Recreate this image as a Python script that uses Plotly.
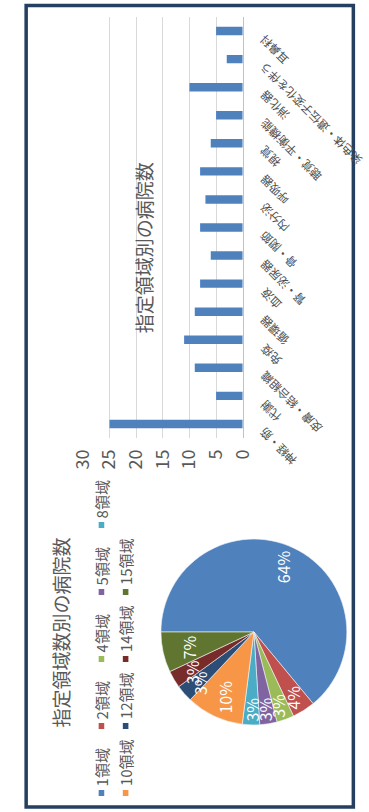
import math
import plotly.graph_objects as go

W, H = 369, 812

# ---- bar chart data: hospitals per designated field ----
categories = [
    "神経・筋", "代謝", "皮膚・結合組織", "免疫", "循環器", "血液",
    "腎・泌尿器", "骨・関節", "内分泌", "呼吸器", "視覚",
    "聴覚・平衡機能", "消化器", "染色体・遺伝子変化を伴う", "耳鼻科",
]
hospital_counts = [25, 5, 9, 11, 9, 8, 6, 8, 7, 8, 6, 5, 10, 3, 5]
value_ticks = [0, 5, 10, 15, 20, 25, 30]

# ---- pie chart data: share of hospitals by number of fields ----
field_groups = ["1領域", "2領域", "4領域", "5領域", "8領域",
                "10領域", "12領域", "14領域", "15領域"]
group_share = [64, 4, 3, 3, 3, 10, 3, 3, 7]
group_colors = ["#4F81BD", "#C0504D", "#9BBB59", "#8064A2", "#4BACC6",
                "#F79646", "#2C4D75", "#772C2A", "#5F7530"]

bar_title = "指定領域別の病院数"
pie_title = "指定領域数別の病院数"

FONT = "Noto Sans CJK JP, Noto Sans, Arial"
GREY = "#595959"


def px(x):
    return x / W


def py(y):
    return 1 - y / H


fig = go.Figure()

# horizontal bars (the whole sheet is turned a quarter turn)
fig.add_trace(go.Bar(
    x=hospital_counts, y=categories, orientation="h",
    marker=dict(color="#4F81BD", line=dict(width=0)),
    showlegend=False, hoverinfo="x+y",
))

# pie, starting at 9 o'clock and running clockwise
pie_left, pie_top, pie_size = 157, 532, 200
pie_rotation = -90
fig.add_trace(go.Pie(
    labels=field_groups, values=group_share, sort=False,
    direction="clockwise", rotation=pie_rotation,
    marker=dict(colors=group_colors, line=dict(color="#F2F5FA", width=0.6)),
    textinfo="none", showlegend=False,
    domain=dict(x=[px(pie_left), px(pie_left + pie_size)],
                y=[py(pie_top + pie_size), py(pie_top)]),
))

annotations = []

# percentage labels inside the pie, turned with the sheet
cx, cy, R = pie_left + pie_size / 2, pie_top + pie_size / 2, pie_size / 2
total = sum(group_share)
cum = 0
for name, v in zip(field_groups, group_share):
    mid = cum + v / 2
    cum += v
    th = math.radians(pie_rotation + mid / total * 360)
    r = 0.72 * R if v >= 5 else 0.78 * R
    lx, ly = cx + r * math.sin(th), cy - r * math.cos(th)
    annotations.append(dict(
        x=px(lx), y=py(ly), xref="paper", yref="paper",
        text=f"{round(v / total * 100)}%", showarrow=False, textangle=-90,
        font=dict(family=FONT, size=16, color="white"),
        xanchor="center", yanchor="middle", borderpad=0,
    ))

# legend drawn as rotated items: two columns of markers + labels
legend_cols = [93, 119]
legend_y0, legend_step, per_col = 793, 67, 5
shapes = []
for i, (name, col) in enumerate(zip(field_groups, group_colors)):
    cxl = legend_cols[i // per_col]
    my = legend_y0 - legend_step * (i % per_col)
    shapes.append(dict(type="rect", xref="paper", yref="paper",
                       x0=px(cxl - 3), x1=px(cxl + 3),
                       y0=py(my + 3), y1=py(my - 3),
                       fillcolor=col, line=dict(width=0)))
    annotations.append(dict(
        x=px(cxl), y=py(my - 6), xref="paper", yref="paper",
        text=name, showarrow=False, textangle=-90,
        font=dict(family=FONT, size=15, color=GREY),
        xanchor="center", yanchor="bottom", borderpad=0,
    ))

# chart titles
annotations.append(dict(
    x=px(48), y=py(633), xref="paper", yref="paper", text=pie_title,
    showarrow=False, textangle=-90,
    font=dict(family=FONT, size=19, color=GREY),
    xanchor="center", yanchor="middle"))
annotations.append(dict(
    x=px(138), y=py(248), xref="paper", yref="paper", text=bar_title,
    showarrow=False, textangle=-90,
    font=dict(family=FONT, size=19, color=GREY),
    xanchor="center", yanchor="middle"))

# diagonal category labels next to the category axis
for c in categories:
    annotations.append(dict(
        x=px(258), y=c, xref="paper", yref="y", yshift=1,
        text=c, showarrow=False, textangle=-135,
        font=dict(family=FONT, size=11.5, color="#4D4D4D"),
        xanchor="left", yanchor="top", borderpad=0,
    ))

# outer frame
shapes.append(dict(type="rect", xref="paper", yref="paper",
                   x0=px(12), x1=px(364), y0=py(807), y1=py(5.5),
                   line=dict(color="#243F60", width=3.5),
                   fillcolor="rgba(0,0,0,0)", layer="above"))

fig.update_layout(
    width=W, height=H, margin=dict(l=0, r=0, t=0, b=0),
    paper_bgcolor="white", plot_bgcolor="white",
    bargap=0.7,
    font=dict(family=FONT, color=GREY),
    xaxis=dict(domain=[px(73), px(245)], range=[30, 0], anchor="y",
               tickvals=value_ticks, tickangle=-90, ticks="",
               showgrid=True, gridcolor="#D9D9D9", gridwidth=1,
               zeroline=False, showline=False,
               tickfont=dict(family=FONT, size=18, color=GREY),
               ticklabelstandoff=7, fixedrange=True),
    yaxis=dict(domain=[py(438), py(17)], type="category", anchor="x",
               range=[-0.5, len(categories) - 0.5],
               side="right", showticklabels=False, ticks="",
               showgrid=False, showline=True, linecolor="#B4C4DA",
               linewidth=1, fixedrange=True),
    annotations=annotations, shapes=shapes,
)

fig.write_html("out.html")
